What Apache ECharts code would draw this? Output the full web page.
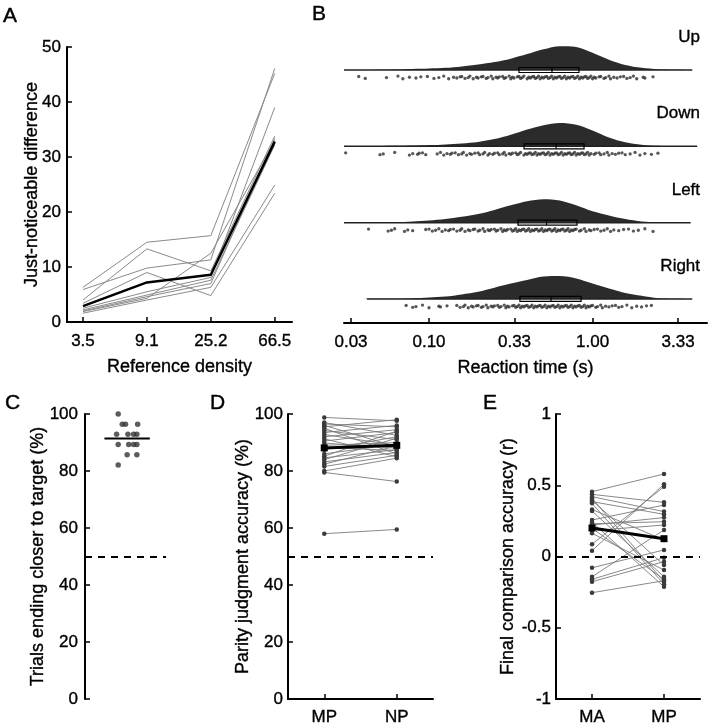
<!DOCTYPE html>
<html>
<head>
<meta charset="utf-8">
<script src="https://cdn.jsdelivr.net/npm/echarts@6/dist/echarts.min.js"></script>
<style>
  html, body { margin: 0; padding: 0; background: #fff; }
  #chart { width: 709px; height: 723px; }
</style>
</head>
<body>
<div id="chart"></div>
<script>
// ---------- A: just-noticeable difference ----------
const densityLabels = ['3.5', '9.1', '25.2', '66.5'];
const jndSubjects = [
  [6.3, 14.5, 15.7, 45.2],
  [5.9, 9.8, 11.3, 46.1],
  [4.0, 13.3, 9.3, 33.8],
  [3.4, 9.0, 4.8, 23.4],
  [2.5, 5.5, 8.1, 39.0],
  [2.2, 4.9, 7.6, 32.2],
  [1.9, 4.3, 12.5, 33.0],
  [1.6, 4.0, 6.3, 24.9],
  [2.0, 4.6, 7.0, 33.4]
];
const jndMean = [2.9, 7.2, 8.6, 32.8];

// ---------- B: reaction times (log10 s) ----------
const rtConditions = ['Up', 'Down', 'Left', 'Right'];
const rtTicks = [1 / 30, 0.1, 1 / 3, 1, 10 / 3]; // seconds
const kdeGrid = [-1.5, -1.4, -1.3, -1.2, -1.1, -1.0, -0.9, -0.8, -0.7, -0.6, -0.5, -0.4, -0.3, -0.2, -0.1, 0.0, 0.1, 0.2, 0.3, 0.4, 0.5, 0.6];
const kdeUp    = [0, 0, 0.01, 0.02, 0.04, 0.06, 0.09, 0.15, 0.23, 0.33, 0.47, 0.66, 0.86, 0.99, 0.96, 0.72, 0.43, 0.21, 0.09, 0.03, 0.01, 0];
const kdeDown  = [0, 0, 0.01, 0.02, 0.03, 0.05, 0.08, 0.12, 0.18, 0.30, 0.48, 0.70, 0.88, 0.97, 0.90, 0.66, 0.37, 0.17, 0.07, 0.02, 0.005, 0];
const kdeLeft  = [0, 0, 0.01, 0.02, 0.05, 0.09, 0.15, 0.24, 0.36, 0.53, 0.72, 0.89, 0.97, 0.92, 0.72, 0.47, 0.30, 0.15, 0.05, 0.01, 0, 0];
const kdeRight = [0, 0, 0.005, 0.01, 0.03, 0.06, 0.10, 0.19, 0.30, 0.47, 0.64, 0.79, 0.93, 0.95, 0.85, 0.64, 0.43, 0.25, 0.13, 0.03, 0.01, 0];
// [min, max] of each distribution, log10 s
const rtRangeUp = [-1.52, 0.61];
const rtRangeDown = [-1.52, 0.64];
const rtRangeLeft = [-1.52, 0.60];
const rtRangeRight = [-1.38, 0.61];
// q1, median, q3 (log10 s)
const rtBoxUp = [-0.450, -0.248, -0.083];
const rtBoxDown = [-0.419, -0.223, -0.052];
const rtBoxLeft = [-0.456, -0.281, -0.095];
const rtBoxRight = [-0.444, -0.254, -0.070];
// single trials (log10 s)
const rtDotsUp = [-1.43, -1.39, -1.26, -1.19, -1.16, -1.12, -1.08, -1.05, -1.01, -0.97, -0.94, -0.91, -0.88,
  -0.85, -0.83, -0.81, -0.80, -0.78, -0.76, -0.75, -0.73, -0.71, -0.70, -0.68, -0.67, -0.65, -0.64, -0.62, -0.61,
  -0.59, -0.58, -0.57, -0.55, -0.54, -0.53, -0.51, -0.50, -0.49, -0.48, -0.46, -0.45, -0.44, -0.43, -0.42, -0.40,
  -0.39, -0.38, -0.37, -0.36, -0.35, -0.34, -0.33, -0.32, -0.31, -0.30, -0.29, -0.28, -0.27, -0.26, -0.25, -0.24,
  -0.23, -0.22, -0.21, -0.20, -0.19, -0.18, -0.17, -0.16, -0.15, -0.14, -0.13, -0.12, -0.11, -0.10, -0.09, -0.08,
  -0.07, -0.06, -0.05, -0.04, -0.03, -0.02, -0.01, 0.00, 0.01, 0.02, 0.04, 0.05, 0.07, 0.08, 0.10, 0.11, 0.13,
  0.15, 0.17, 0.19, 0.21, 0.23, 0.25, 0.27, 0.31, 0.32, 0.37];
const rtDotsDown = [-1.51, -1.30, -1.28, -1.21, -1.12, -1.10, -1.07, -1.06, -1.04, -1.02, -0.95,
  -0.93, -0.91, -0.89, -0.87, -0.86, -0.84, -0.82, -0.80, -0.79, -0.77, -0.75, -0.74, -0.72, -0.70, -0.69, -0.67,
  -0.66, -0.64, -0.63, -0.61, -0.60, -0.58, -0.57, -0.55, -0.54, -0.53, -0.51, -0.50, -0.49, -0.47, -0.46, -0.45,
  -0.44, -0.42, -0.41, -0.40, -0.39, -0.38, -0.37, -0.36, -0.35, -0.34, -0.33, -0.32, -0.31, -0.30, -0.29, -0.28,
  -0.27, -0.26, -0.25, -0.24, -0.23, -0.22, -0.21, -0.20, -0.19, -0.18, -0.17, -0.16, -0.15, -0.14, -0.13, -0.12,
  -0.11, -0.10, -0.09, -0.08, -0.07, -0.06, -0.05, -0.04, -0.03, -0.02, -0.01, 0.01, 0.02, 0.04, 0.05, 0.07, 0.09,
  0.10, 0.12, 0.14, 0.16, 0.18, 0.20, 0.23, 0.26, 0.29, 0.32, 0.36, 0.40];
const rtDotsLeft = [-1.37, -1.25, -1.23, -1.21, -1.15, -1.13, -1.10,
  -1.02, -1.00, -0.98, -0.96, -0.94, -0.92, -0.90, -0.88, -0.87, -0.85, -0.83, -0.81, -0.80, -0.78, -0.76, -0.75,
  -0.73, -0.72, -0.70, -0.69, -0.67, -0.66, -0.64, -0.63, -0.62, -0.60, -0.59, -0.58, -0.56, -0.55, -0.54, -0.53,
  -0.52, -0.50, -0.49, -0.48, -0.47, -0.46, -0.45, -0.44, -0.43, -0.42, -0.41, -0.40, -0.39, -0.38, -0.37, -0.36,
  -0.35, -0.34, -0.33, -0.32, -0.31, -0.30, -0.29, -0.28, -0.27, -0.26, -0.25, -0.24, -0.23, -0.22, -0.21, -0.20,
  -0.19, -0.18, -0.17, -0.16, -0.15, -0.14, -0.13, -0.12, -0.11, -0.10, -0.08, -0.07, -0.05, -0.04, -0.02, -0.01,
  0.01, 0.03, 0.05, 0.07, 0.09, 0.11, 0.13, 0.16, 0.19, 0.22, 0.25, 0.28, 0.32, 0.37];
const rtDotsRight = [-1.14, -1.10, -1.08, -1.04, -1.00, -0.94, -0.93, -0.89,
  -0.83, -0.81, -0.79, -0.78, -0.76, -0.74, -0.73, -0.71, -0.70, -0.68, -0.67, -0.65, -0.64, -0.62, -0.61, -0.60,
  -0.58, -0.57, -0.56, -0.54, -0.53, -0.52, -0.51, -0.49, -0.48, -0.47, -0.46, -0.45, -0.44, -0.43, -0.42, -0.41,
  -0.40, -0.39, -0.38, -0.37, -0.36, -0.35, -0.34, -0.33, -0.32, -0.31, -0.30, -0.29, -0.28, -0.27, -0.26, -0.25,
  -0.24, -0.23, -0.22, -0.21, -0.20, -0.19, -0.18, -0.17, -0.16, -0.15, -0.14, -0.13, -0.12, -0.11, -0.10, -0.09,
  -0.08, -0.07, -0.06, -0.05, -0.04, -0.03, -0.02, -0.01, 0.00, 0.02, 0.03, 0.05, 0.06, 0.08, 0.10, 0.12, 0.14,
  0.16, 0.18, 0.21, 0.24, 0.27, 0.30, 0.33, 0.36];

// ---------- C: trials ending closer to target ----------
const closerPct = [100, 96.4, 96.4, 96.4, 92.9, 92.9, 92.9, 92.9, 89.3, 89.3, 89.3, 89.3, 85.7, 85.7, 82.1];
const closerSwarm = [0.41, 0.46, 0.50, 0.65, 0.39, 0.53, 0.60, 0.64, 0.41, 0.54, 0.60, 0.64, 0.52, 0.64, 0.41];

// ---------- D: parity judgment accuracy ----------
const parityConds = ['MP', 'NP'];
const parityMP = [98.8, 97.0, 96.5, 96.0, 95.5, 95.0, 94.2, 93.5, 92.8, 92.0, 91.3, 90.5, 89.8, 89.0, 88.3, 87.5,
  86.0, 85.2, 84.6, 84.0, 83.2, 82.4, 81.6, 80.0, 79.5, 58.0];
const parityNP = [97.6, 92.5, 95.5, 88.5, 98.0, 86.0, 91.0, 96.0, 89.0, 94.5, 85.0, 93.5, 88.0, 90.0, 87.2, 92.0,
  89.5, 94.0, 87.5, 91.5, 86.5, 88.8, 85.5, 84.5, 76.3, 59.5];
const parityMean = [88.1, 89.0];

// ---------- E: final comparison accuracy ----------
const finalConds = ['MA', 'MP'];
const finalMA = [0.455, 0.436, 0.408, 0.385, 0.373, 0.319, 0.256, 0.240, 0.221, 0.198, 0.181, 0.163, 0.086, 0.041,
  -0.079, -0.142, -0.160, -0.177, -0.254, 0.420, 0.395, 0.230, 0.330];
const finalMP = [0.579, 0.380, -0.177, 0.296, -0.195, -0.142, 0.361, -0.212, 0.273, -0.160, 0.221, -0.095, 0.490,
  0.507, 0.046, 0.186, -0.008, -0.036, -0.170, 0.315, -0.060, 0.244, 0.116];
const finalMean = [0.20, 0.125];

// ---------- chart ----------
const chart = echarts.init(document.getElementById('chart'));
const FONT = 'Liberation Sans, Arial, sans-serif';
// thin stroke on text to get the heavier look of the original
const tickFont = { fontFamily: FONT, fontSize: 17, color: '#000', textBorderColor: '#000', textBorderWidth: 0.35 };
const nameFont = { fontFamily: FONT, fontSize: 18, color: '#000', textBorderColor: '#000', textBorderWidth: 0.35 };
const axisLineStyle = { show: true, onZero: false, lineStyle: { color: '#000', width: 2 } };
const tickStyle = { show: true, inside: true, length: 5, lineStyle: { color: '#000', width: 1.5 } };

const yValueAxis = (grid, min, max, interval, name, nameGap, margin) => ({
  type: 'value', gridIndex: grid, min, max, interval,
  axisLine: axisLineStyle, axisTick: tickStyle, splitLine: { show: false },
  axisLabel: Object.assign({ margin }, tickFont),
  name, nameLocation: 'middle', nameGap, nameMoveOverlap: false, nameTextStyle: nameFont
});

const dashedRef = (value) => ({
  symbol: 'none', silent: true, label: { show: false },
  lineStyle: { type: [7, 6], color: '#000', width: 2 },
  data: [{ yAxis: value }]
});

const series = [];

// A
jndSubjects.forEach((s) => {
  series.push({
    type: 'line', xAxisIndex: 0, yAxisIndex: 0, symbol: 'none',
    data: s.map((v, i) => [i, v]),
    lineStyle: { color: '#8a8a8a', width: 1 }, z: 2
  });
});
series.push({
  type: 'line', xAxisIndex: 0, yAxisIndex: 0, symbol: 'none',
  data: jndMean.map((v, i) => [i, v]),
  lineStyle: { color: '#000', width: 2.5 }, z: 3
});

// B
const rowOf = { Up: 3, Down: 2, Left: 1, Right: 0 };
const kdeRows = { Up: kdeUp, Down: kdeDown, Left: kdeLeft, Right: kdeRight };
const rangeRows = { Up: rtRangeUp, Down: rtRangeDown, Left: rtRangeLeft, Right: rtRangeRight };
const boxRows = { Up: rtBoxUp, Down: rtBoxDown, Left: rtBoxLeft, Right: rtBoxRight };
const dotRows = { Up: rtDotsUp, Down: rtDotsDown, Left: rtDotsLeft, Right: rtDotsRight };
const kdeHeight = 0.315;
const jitter = [0.085, 0.11, 0.10, 0.08, 0.115, 0.095, 0.105, 0.09];

rtConditions.forEach((c) => {
  const row = rowOf[c];
  series.push({
    type: 'line', xAxisIndex: 1, yAxisIndex: 1, symbol: 'none', smooth: 0.3,
    data: kdeGrid.map((x, i) => [x, row + kdeRows[c][i] * kdeHeight]),
    lineStyle: { width: 0 },
    areaStyle: { color: '#2b2b2b', opacity: 1, origin: row }, z: 2
  });
  series.push({
    type: 'line', xAxisIndex: 1, yAxisIndex: 1, symbol: 'none',
    data: rangeRows[c].map((x) => [x, row]),
    lineStyle: { color: '#222', width: 1.5 }, z: 3
  });
  series.push({
    type: 'scatter', xAxisIndex: 1, yAxisIndex: 1, symbolSize: 3.3,
    data: dotRows[c].map((x, i) => [x, row - jitter[i % jitter.length]]),
    itemStyle: { color: '#2e2e2e' }, z: 3
  });
  series.push({
    type: 'custom', xAxisIndex: 1, yAxisIndex: 1, z: 4,
    data: [[...boxRows[c], row]],
    encode: { x: [0, 1, 2], y: 3 },
    renderItem: (params, api) => {
      const r = api.value(3);
      const p1 = api.coord([api.value(0), r]);
      const pm = api.coord([api.value(1), r]);
      const p3 = api.coord([api.value(2), r]);
      return {
        type: 'group',
        children: [
          { type: 'rect', shape: { x: p1[0], y: p1[1] - 2.5, width: p3[0] - p1[0], height: 5 },
            style: { fill: 'none', stroke: '#000', lineWidth: 1.2 } },
          { type: 'line', shape: { x1: pm[0], y1: pm[1] - 2.5, x2: pm[0], y2: pm[1] + 2.5 },
            style: { stroke: '#000', lineWidth: 1.2 } }
        ]
      };
    }
  });
});
// condition names, right-aligned above each row
series.push({
  type: 'custom', xAxisIndex: 1, yAxisIndex: 1, z: 5, silent: true,
  data: rtConditions.map((c) => [0.6575, rowOf[c] + 0.43, c]),
  encode: { x: 0, y: 1 },
  renderItem: (params, api) => {
    const p = api.coord([api.value(0), api.value(1)]);
    return {
      type: 'text', x: p[0], y: p[1],
      style: { text: rtConditions[params.dataIndex], fontFamily: FONT, fontSize: 17, fill: '#000',
        stroke: '#000', lineWidth: 0.35, align: 'right', verticalAlign: 'middle' }
    };
  }
});

// C
series.push({
  type: 'scatter', xAxisIndex: 2, yAxisIndex: 2, symbolSize: 5.5,
  data: closerPct.map((v, i) => [closerSwarm[i], v]),
  itemStyle: { color: '#333' },
  markLine: dashedRef(50)
});
const closerMean = closerPct.reduce((a, b) => a + b, 0) / closerPct.length;
series.push({
  type: 'line', xAxisIndex: 2, yAxisIndex: 2, symbol: 'none',
  data: [[0.24, closerMean], [0.80, closerMean]],
  lineStyle: { color: '#000', width: 2 }, z: 3
});

// D and E paired lines
const pairedPanel = (axisIdx, a, b, mean, ref) => {
  a.forEach((v, i) => {
    series.push({
      type: 'line', xAxisIndex: axisIdx, yAxisIndex: axisIdx, symbol: 'circle', symbolSize: 4.5,
      data: [v, b[i]],
      lineStyle: { color: '#7a7a7a', width: 0.9 },
      itemStyle: { color: '#3a3a3a' }, z: 2
    });
  });
  series.push({
    type: 'line', xAxisIndex: axisIdx, yAxisIndex: axisIdx, symbol: 'rect', symbolSize: 7,
    data: mean,
    lineStyle: { color: '#000', width: 3 },
    itemStyle: { color: '#000' }, z: 4,
    markLine: dashedRef(ref)
  });
};
pairedPanel(3, parityMP, parityNP, parityMean, 50);
pairedPanel(4, finalMA, finalMP, finalMean, 0);

const catAxis = (grid, cats) => ({
  type: 'category', gridIndex: grid, data: cats, boundaryGap: true,
  axisLine: axisLineStyle,
  axisTick: Object.assign({ alignWithLabel: true }, tickStyle),
  axisLabel: Object.assign({ margin: 10 }, tickFont),
  splitLine: { show: false }
});

const letter = (t, left, top) => ({
  text: t, left, top, padding: 0,
  textStyle: { fontFamily: FONT, fontSize: 21, fontWeight: 'normal', color: '#000',
    textBorderColor: '#000', textBorderWidth: 0.4 }
});

const rtTickLogs = rtTicks.map((v) => Math.log10(v));

chart.setOption({
  animation: false,
  backgroundColor: '#fff',
  title: [letter('A', 3, 6), letter('B', 312, 4), letter('C', 5, 393), letter('D', 210, 393), letter('E', 483, 393)],
  grid: [
    { left: 67, top: 47, width: 225, height: 275, outerBoundsMode: 'none' },
    { left: 344, top: 20, width: 363, height: 303, outerBoundsMode: 'none' },
    { left: 85, top: 414, width: 81, height: 285, outerBoundsMode: 'none' },
    { left: 288, top: 414, width: 145, height: 285, outerBoundsMode: 'none' },
    { left: 556, top: 414, width: 144, height: 285, outerBoundsMode: 'none' }
  ],
  xAxis: [
    {
      type: 'value', gridIndex: 0, min: -0.25, max: 3.27,
      axisLine: axisLineStyle,
      axisTick: Object.assign({ customValues: [0, 1, 2, 3] }, tickStyle),
      axisLabel: Object.assign({ margin: 11, customValues: [0, 1, 2, 3],
        formatter: (v) => densityLabels[Math.round(v)] }, tickFont),
      splitLine: { show: false },
      name: 'Reference density', nameLocation: 'middle', nameGap: 36, nameTextStyle: nameFont
    },
    {
      type: 'value', gridIndex: 1, min: -1.52, max: 0.70,
      axisLine: axisLineStyle,
      axisTick: Object.assign({ customValues: rtTickLogs }, tickStyle),
      axisLabel: Object.assign({ margin: 11, customValues: rtTickLogs,
        formatter: (v) => Math.pow(10, v).toFixed(2) }, tickFont),
      splitLine: { show: false },
      name: 'Reaction time (s)', nameLocation: 'middle', nameGap: 36, nameTextStyle: nameFont
    },
    { type: 'value', gridIndex: 2, min: 0, max: 1, show: false },
    catAxis(3, parityConds),
    catAxis(4, finalConds)
  ],
  yAxis: [
    yValueAxis(0, 0, 50, 10, 'Just-noticeable difference', 26, 6),
    { type: 'value', gridIndex: 1, min: -0.315, max: 3.655, show: false },
    yValueAxis(2, 0, 100, 20, 'Trials ending closer to target (%)', 38, 7),
    yValueAxis(3, 0, 100, 20, 'Parity judgment accuracy (%)', 36, 5),
    yValueAxis(4, -1, 1, 0.5, 'Final comparison accuracy (r)', 39, 5)
  ],
  series
});
</script>
</body>
</html>
